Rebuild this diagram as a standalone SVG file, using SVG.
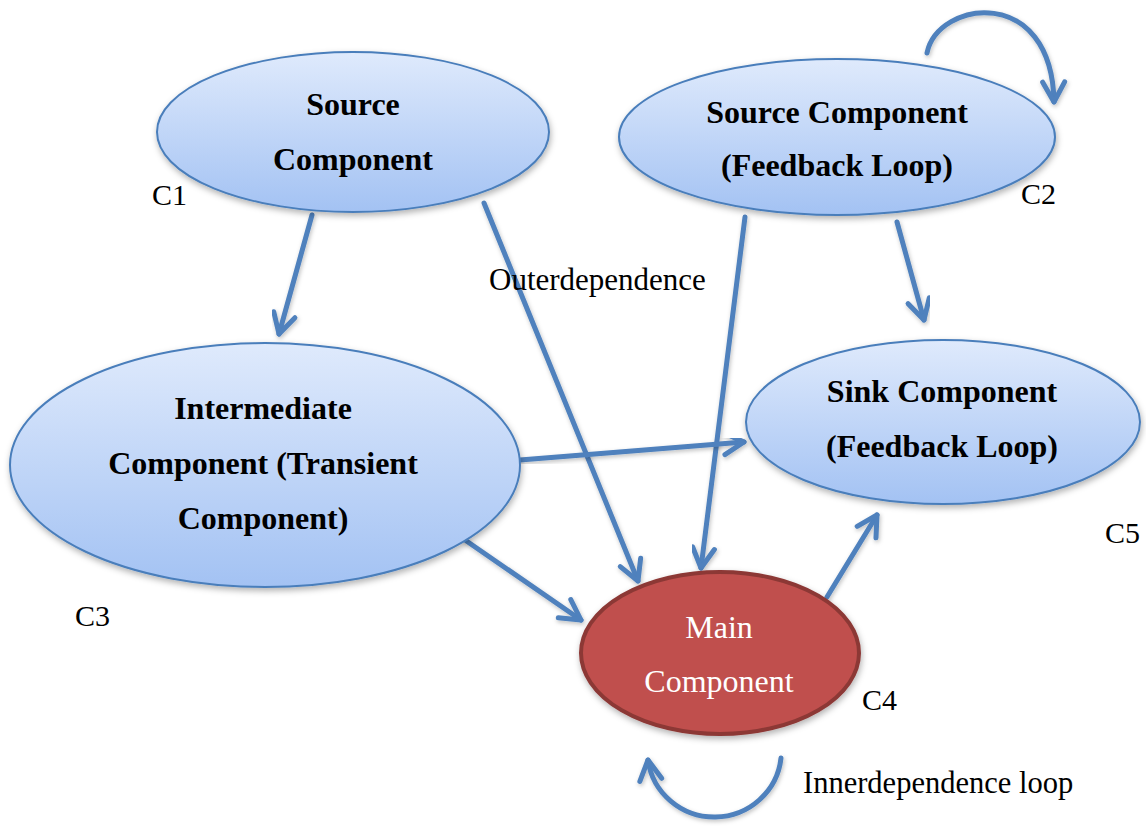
<svg xmlns="http://www.w3.org/2000/svg" width="1146" height="828" viewBox="0 0 1146 828">
  <style>
    .comp { fill: url(#blueFill); stroke: #4A7EBB; stroke-width: 2; filter: url(#shadow); }
    .main { fill: #C0504D; stroke: #8C3836; stroke-width: 4; filter: url(#shadow); }
    .title { font-family: "Liberation Serif", "Times New Roman", serif; font-weight: bold; font-size: 32px; fill: #000; text-anchor: middle; }
    .mainText { font-family: "Liberation Serif", "Times New Roman", serif; font-size: 32px; fill: #fff; text-anchor: middle; }
    .label { font-family: "Liberation Serif", "Times New Roman", serif; font-size: 30px; fill: #000; }
    .edge { fill: none; stroke: #4F81BD; stroke-width: 5; stroke-linecap: round; marker-end: url(#chevron); filter: url(#lineShadow); }
  </style>
  <defs>
    <linearGradient id="blueFill" x1="0" y1="0" x2="0" y2="1">
      <stop offset="0" stop-color="#DFEAFC"/>
      <stop offset="1" stop-color="#A3C2F3"/>
    </linearGradient>
    <filter id="shadow" x="-10%" y="-10%" width="120%" height="130%">
      <feDropShadow dx="1" dy="3" stdDeviation="3" flood-color="#000" flood-opacity="0.3"/>
    </filter>
    <filter id="lineShadow" x="-20%" y="-20%" width="140%" height="140%">
      <feDropShadow dx="1" dy="2" stdDeviation="2" flood-color="#000" flood-opacity="0.25"/>
    </filter>
    <marker id="chevron" markerUnits="userSpaceOnUse" markerWidth="30" markerHeight="30" viewBox="-24 -15 30 30" refX="0" refY="0" orient="auto">
      <path d="M-20,-11 L0,0 L-20,11" fill="none" stroke="#4F81BD" stroke-width="5" stroke-linecap="round" stroke-linejoin="round"/>
    </marker>
  </defs>

  <!-- connectors -->
  <g id="connectors">
    <path class="edge" d="M312,215 L279,334"/>
    <path class="edge" d="M484,203 L638,581"/>
    <path class="edge" d="M745,217 L701,568"/>
    <path class="edge" d="M897,222 L924,320"/>
    <path class="edge" d="M520,460 L744,442"/>
    <path class="edge" d="M465,540 L581,620"/>
    <path class="edge" d="M827,597 L877,515"/>
    <path class="edge" d="M927,53 C938,0 1052,-16 1054,102"/>
    <path class="edge" d="M781,758 A67,66 0 0,1 648,760"/>
  </g>

  <g id="c1">
    <ellipse class="comp" cx="353" cy="132" rx="196" ry="80"/>
    <text class="title" x="353" y="115">Source</text>
    <text class="title" x="353" y="170">Component</text>
    <text class="label" x="152" y="205">C1</text>
  </g>

  <g id="c2">
    <ellipse class="comp" cx="837" cy="137" rx="218" ry="78"/>
    <text class="title" x="837" y="123">Source Component</text>
    <text class="title" x="837" y="176">(Feedback Loop)</text>
    <text class="label" x="1021" y="204">C2</text>
  </g>

  <g id="c3">
    <ellipse class="comp" cx="265" cy="465" rx="255" ry="122"/>
    <text class="title" x="263" y="419">Intermediate</text>
    <text class="title" x="263" y="474">Component (Transient</text>
    <text class="title" x="263" y="529">Component)</text>
    <text class="label" x="75" y="626">C3</text>
  </g>

  <g id="c5">
    <ellipse class="comp" cx="943" cy="422" rx="197" ry="82"/>
    <text class="title" x="942" y="402">Sink Component</text>
    <text class="title" x="942" y="457">(Feedback Loop)</text>
    <text class="label" x="1105" y="543">C5</text>
  </g>

  <g id="c4">
    <ellipse class="main" cx="720" cy="653" rx="139" ry="81"/>
    <text class="mainText" x="719" y="638">Main</text>
    <text class="mainText" x="719" y="692">Component</text>
    <text class="label" x="862" y="710">C4</text>
  </g>

  <g id="edge-labels">
    <text class="label" x="489" y="290" style="font-size:31px">Outerdependence</text>
    <text class="label" x="803" y="793" style="font-size:30.5px">Innerdependence loop</text>
  </g>
</svg>
